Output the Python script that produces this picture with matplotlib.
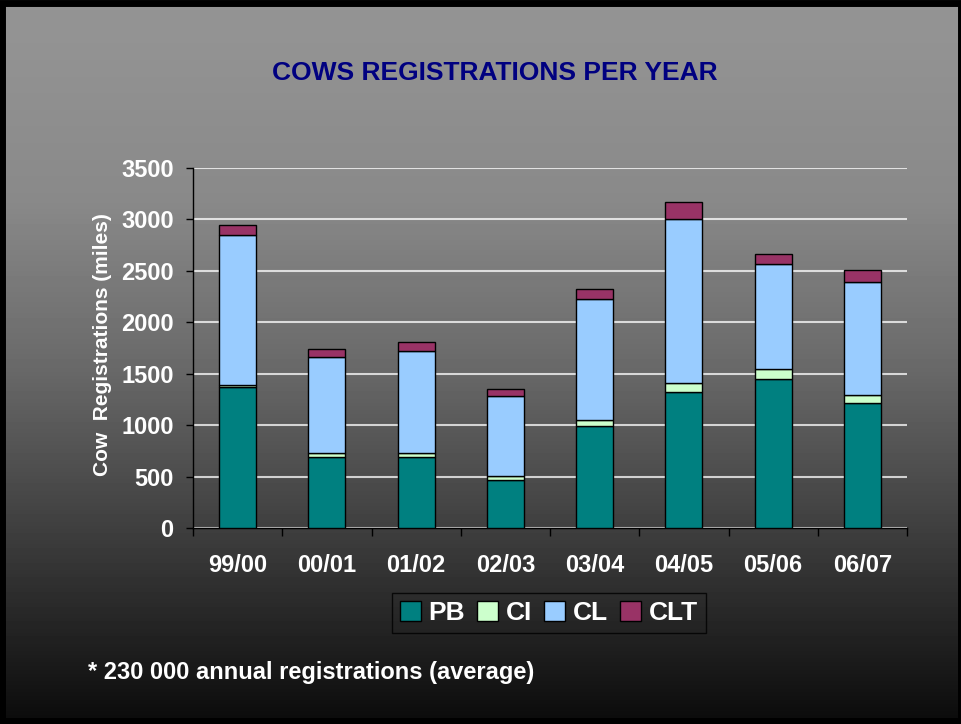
import numpy as np
import matplotlib
matplotlib.use("Agg")
import matplotlib.pyplot as plt
from matplotlib.patches import Patch, Rectangle

plt.rcParams["font.family"] = ["Liberation Sans", "DejaVu Sans"]
plt.rcParams["font.weight"] = "bold"

years = ["99/00", "00/01", "01/02", "02/03", "03/04", "04/05", "05/06", "06/07"]
pb = [1375, 690, 690, 465, 990, 1320, 1445, 1212]
ci = [20, 35, 35, 37, 60, 88, 103, 78]
cl = [1450, 940, 995, 785, 1175, 1600, 1018, 1102]
clt = [100, 80, 85, 61, 95, 160, 97, 116]

colors = {"PB": "#008080", "CI": "#CCFFCC", "CL": "#99CCFF", "CLT": "#993366"}

W, H = 962, 724
fig = plt.figure(figsize=(W / 100, H / 100), dpi=100)

# grey-to-black slide background
bg = fig.add_axes([0, 0, 1, 1], zorder=-10)
rows = np.arange(H)
shade = np.interp(rows, [0, 200, 362, 528, 650, 718], [149, 137, 106, 63, 30, 12]) / 255
bg.imshow(np.repeat(shade[:, None], 4, axis=1), cmap="gray", vmin=0, vmax=1,
          aspect="auto", extent=[0, 1, 0, 1])
bg.set_axis_off()

ax = fig.add_axes([193 / W, 1 - 528 / H, 714 / W, 360 / H])
ax.patch.set_alpha(0)

x = np.arange(len(years))
w = 0.415
bottom = np.zeros(len(years))
for name, vals in [("PB", pb), ("CI", ci), ("CL", cl), ("CLT", clt)]:
    ax.bar(x, vals, w, bottom=bottom, color=colors[name], edgecolor="black",
           linewidth=1, zorder=3)
    bottom += np.array(vals)

ax.set_xlim(-0.5, len(years) - 0.5)
ax.set_ylim(0, 3500)
ax.set_yticks(np.arange(0, 3501, 500))
ax.yaxis.grid(True, color="white", alpha=0.75, linewidth=1.5, zorder=0)
ax.set_axisbelow(True)

ax.set_xticks(x)
ax.set_xticklabels(years)
ax.set_xticks(np.arange(-0.5, len(years)), minor=True)
ax.tick_params(axis="x", which="major", length=0, pad=19, labelsize=17,
               labelcolor="white")
ax.tick_params(axis="x", which="minor", length=6, width=1, color="black")
ax.tick_params(axis="y", length=5, width=1, color="black", pad=9,
               labelsize=17, labelcolor="white")

for side in ["top", "right"]:
    ax.spines[side].set_visible(False)
for side in ["left", "bottom"]:
    ax.spines[side].set_color("black")
    ax.spines[side].set_linewidth(1)

fig.text(495 / W, 1 - 73 / H, "COWS REGISTRATIONS PER YEAR", color="#000080",
         fontsize=19, fontweight="bold", ha="center", va="center")
fig.text(103 / W, 1 - 345 / H, "Cow  Registrations (miles)", color="white",
         fontsize=15, fontweight="bold", rotation=90, ha="center", va="center")
fig.text(88 / W, 1 - 672 / H, "* 230 000 annual registrations (average)",
         color="white", fontsize=17, fontweight="bold", ha="left", va="center")

handles = [Patch(facecolor=c, edgecolor="black", linewidth=1) for c in colors.values()]
leg = fig.legend(handles, list(colors.keys()), loc="center",
                 bbox_to_anchor=(549 / W, 1 - 613 / H), ncol=4, frameon=True,
                 fontsize=19, handlelength=0.8, handleheight=0.8,
                 handletextpad=0.3, columnspacing=0.45, borderpad=0.3,
                 fancybox=False, labelcolor="white")
leg.get_frame().set_facecolor("none")
leg.get_frame().set_edgecolor("black")
leg.get_frame().set_linewidth(1)

# dark frame around the slide
fig.patches.append(Rectangle((2 / W, 3 / H), 1 - 3.5 / W, 1 - 5.5 / H,
                             transform=fig.transFigure, fill=False,
                             edgecolor="black", linewidth=5, zorder=10))

fig.savefig("out.png", dpi=100)
